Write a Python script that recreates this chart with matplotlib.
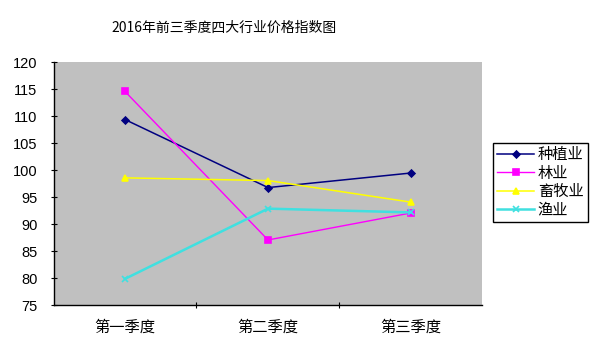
import matplotlib
matplotlib.use("Agg")
import matplotlib.pyplot as plt

plt.rcParams['font.family'] = ['Liberation Sans', 'Noto Sans CJK SC', 'DejaVu Sans']

title = "2016年前三季度四大行业价格指数图"
categories = ["第一季度", "第二季度", "第三季度"]
series_names = ["种植业", "林业", "畜牧业", "渔业"]
planting = [109.4, 96.8, 99.5]
forestry = [114.6, 87.1, 92.1]
livestock = [98.6, 98.1, 94.1]
fishery = [79.9, 92.9, 92.2]
yticks = [75, 80, 85, 90, 95, 100, 105, 110, 115, 120]

series = [planting, forestry, livestock, fishery]
colors = ["#000080", "#FF00FF", "#FFFF00", "#40E0E0"]
markers = ["D", "s", "^", "x"]
msizes = [3.5, 4.5, 4.5, 4.5]
lws = [1.1, 1.0, 1.1, 1.8]

fig = plt.figure(figsize=(5.93, 3.56), dpi=100)
ax = fig.add_axes([53.5/593, 1-305.3/356, (482.5-53.5)/593, (305.3-62.3)/356])
ax.set_facecolor("#C0C0C0")

x = list(range(len(categories)))
for name, vals, c, m, ms, lw in zip(series_names, series, colors, markers, msizes, lws):
    ax.plot(x, vals, color=c, marker=m, markersize=ms, linewidth=lw, label=name,
            markeredgecolor=c, markerfacecolor=c, mew=1.2)

ax.set_xlim(-0.5, len(categories) - 0.5)
ax.set_ylim(75, 120)
ax.set_yticks(yticks)
ax.set_xticks(x)
ax.set_xticklabels(categories, fontsize=11)
ax.set_xticks([0.5, 1.5], minor=True)
ax.tick_params(axis='x', which='major', length=0, pad=11)
ax.tick_params(axis='x', which='minor', direction='inout', length=5, width=0.8)
ax.tick_params(axis='y', direction='inout', length=5, width=0.8, labelsize=10.5, pad=9)
for s in ['top', 'right']:
    ax.spines[s].set_visible(False)
for s in ['left', 'bottom']:
    ax.spines[s].set_color('black')
    ax.spines[s].set_linewidth(1.0)

fig.text(224/593, 1-28/356, title, ha='center', va='center', fontsize=10,
         family=['Noto Sans CJK SC', 'DejaVu Sans'])

leg = ax.legend(loc='upper left', bbox_to_anchor=(492.7/593, 1-143.3/356),
                bbox_transform=fig.transFigure, fontsize=11, frameon=True,
                fancybox=False, edgecolor='black', framealpha=1,
                borderpad=0.3, labelspacing=0.3, handlelength=2.4,
                handletextpad=0.25, borderaxespad=0)
leg.get_frame().set_linewidth(1.0)

fig.savefig("out.png", dpi=100)
